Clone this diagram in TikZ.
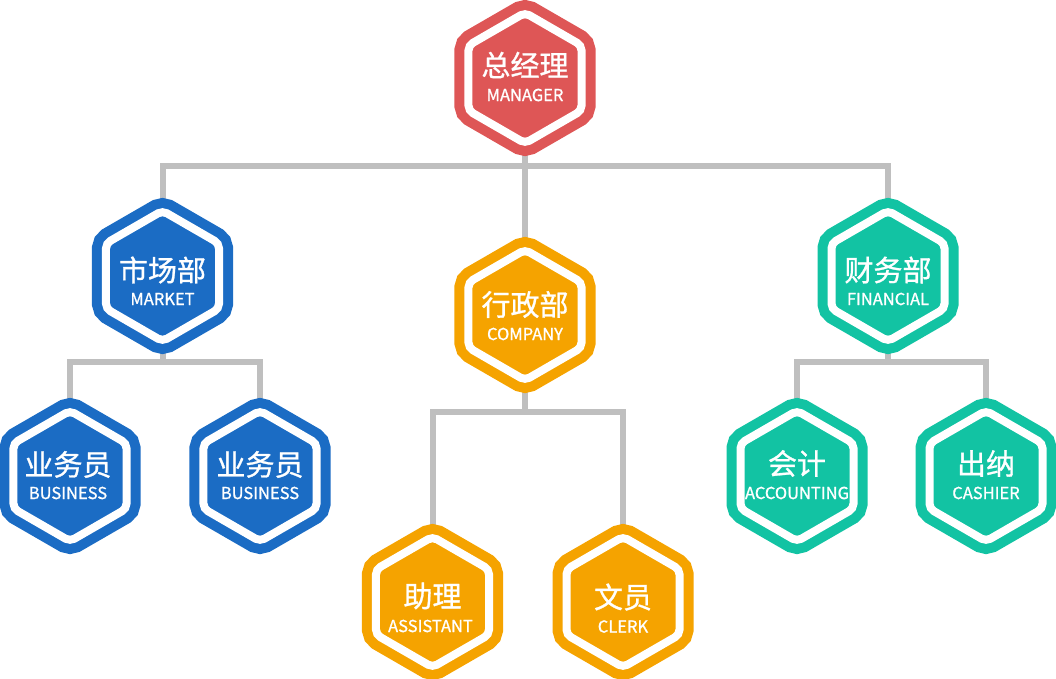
\documentclass[tikz,border=0pt]{standalone}
\usepackage{fontspec}
\setmainfont[FakeBold=1]{Noto Sans CJK SC}
\usetikzlibrary{shapes.geometric,backgrounds}
\definecolor{mgrred}{HTML}{DE5656}
\definecolor{mktblue}{HTML}{1B6CC4}
\definecolor{cmporange}{HTML}{F5A300}
\definecolor{finteal}{HTML}{12C3A3}
\definecolor{linkgray}{HTML}{BFBFBF}
\tikzset{hexa/.style={regular polygon,regular polygon sides=6,shape border rotate=30,
  minimum size=130.5pt,inner sep=0pt,outer sep=0pt,rounded corners=5pt,
  fill=#1,draw=#1,line width=10pt,double=white,double distance=8pt}}
\tikzset{cn/.style={text=white,inner sep=0pt,font=\fontsize{29}{31}\selectfont}}
\tikzset{en/.style={text=white,inner sep=0pt,font=\fontsize{16.5}{18}\selectfont}}
\tikzset{link/.style={draw=linkgray,line width=6pt}}

\begin{document}
\begin{tikzpicture}[x=1pt,y=-1pt]
\useasboundingbox (0,0) rectangle (1056,679);
% \draw[help lines,step=50] (0,0) grid (1056,679);
\node (mgr) [hexa=mgrred] at (525,78) {};
\node (mkt) [hexa=mktblue] at (162.5,276) {};
\node (cmp) [hexa=cmporange] at (525,315) {};
\node (fin) [hexa=finteal] at (888,276) {};
\node (bus1) [hexa=mktblue] at (70,476) {};
\node (bus2) [hexa=mktblue] at (260,476) {};
\node (ast) [hexa=cmporange] at (432.5,602) {};
\node (clk) [hexa=cmporange] at (623,602) {};
\node (acc) [hexa=finteal] at (797,476) {};
\node (csh) [hexa=finteal] at (986,476) {};
%
\node (mgr-cn) [cn] at (525,65) {总经理};
\node (mgr-en) [en] at (525,95) {MANAGER};
\node (mkt-cn) [cn] at (162.5,270) {市场部};
\node (mkt-en) [en] at (162.5,299) {MARKET};
\node (cmp-cn) [cn] at (525,304.5) {行政部};
\node (cmp-en) [en] at (525,334) {COMPANY};
\node (fin-cn) [cn] at (888,270) {财务部};
\node (fin-en) [en] at (888,299) {FINANCIAL};
\node (bus1-cn) [cn] at (68,464.5) {业务员};
\node (bus1-en) [en] at (68,493) {BUSINESS};
\node (bus2-cn) [cn] at (260,464.5) {业务员};
\node (bus2-en) [en] at (260,493) {BUSINESS};
\node (ast-cn) [cn] at (432.5,596) {助理};
\node (ast-en) [en] at (430.5,626) {ASSISTANT};
\node (clk-cn) [cn] at (623,597) {文员};
\node (clk-en) [en] at (623,626.5) {CLERK};
\node (acc-cn) [cn] at (797,463.5) {会计};
\node (acc-en) [en] at (797,493) {ACCOUNTING};
\node (csh-cn) [cn] at (986,463.5) {出纳};
\node (csh-en) [en] at (986,493) {CASHIER};
%
\coordinate (mgr-j) at (525,166.5);
\coordinate (mkt-j) at (162.5,362);
\coordinate (cmp-j) at (525,412);
\coordinate (fin-j) at (888,362);
\begin{scope}[on background layer]
\draw[link] (mgr) -- (cmp);
\draw[link] (mkt) |- (mgr-j) -| (fin);
\draw[link] (mkt) -- (mkt-j);
\draw[link] (bus1) |- (mkt-j) -| (bus2);
\draw[link] (cmp) -- (cmp-j);
\draw[link] (ast) |- (cmp-j) -| (clk);
\draw[link] (fin) -- (fin-j);
\draw[link] (acc) |- (fin-j) -| (csh);
\end{scope}
\end{tikzpicture}
\end{document}
